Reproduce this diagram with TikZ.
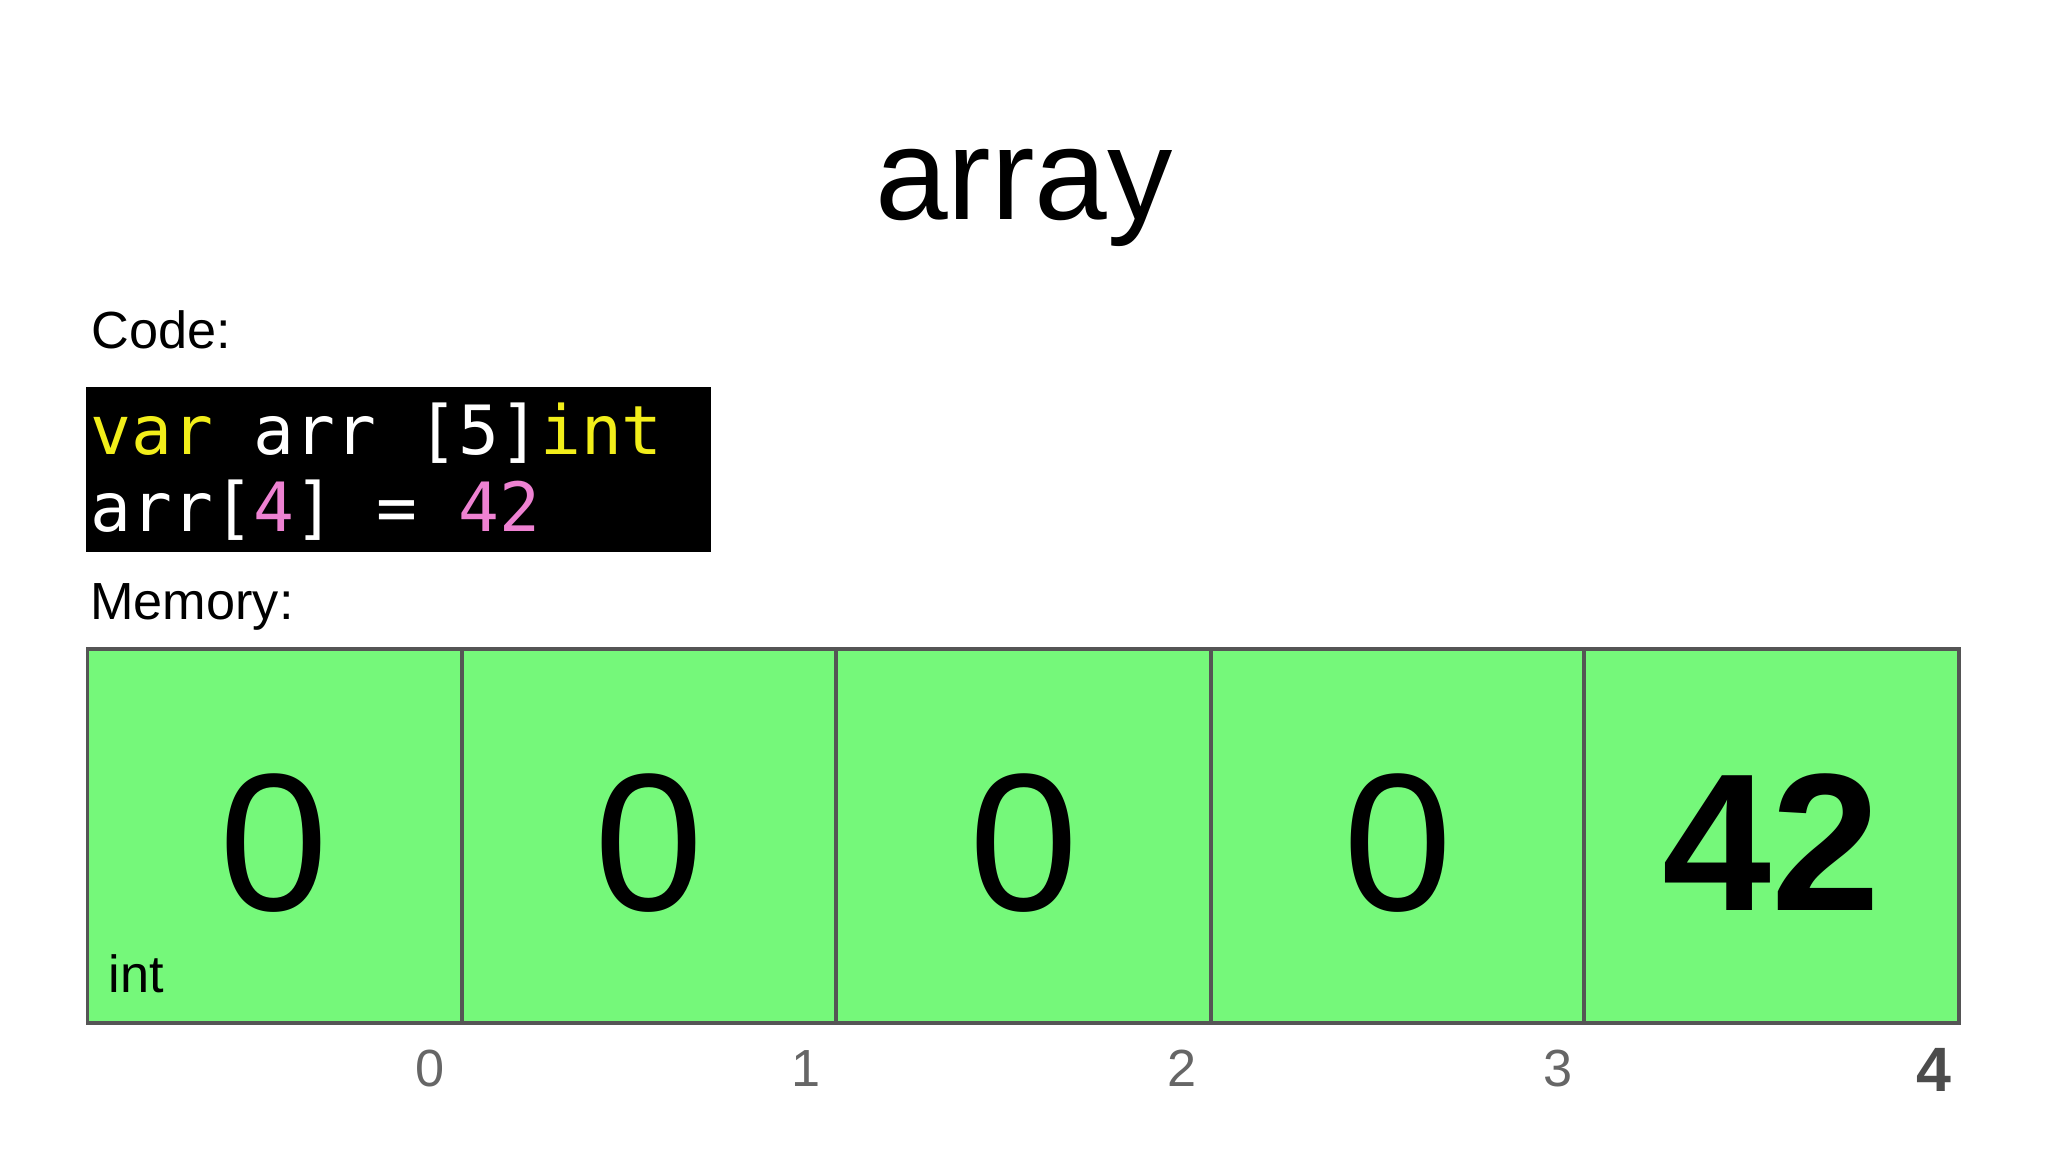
\documentclass[tikz,border=0pt]{standalone}
\usepackage{fontspec}
\setmainfont{Liberation Sans}
\newfontfamily\codefont{DejaVu Sans Mono}
\definecolor{cellgreen}{HTML}{75F87A}
\definecolor{cellborder}{HTML}{555555}
\definecolor{codeyellow}{HTML}{F2EE1A}
\definecolor{codepink}{HTML}{EE82D2}
\definecolor{idxgrey}{HTML}{666666}
\begin{document}
\begin{tikzpicture}[x=1pt,y=-1pt,
  cell/.style={draw=cellborder,line width=3pt,fill=cellgreen},
  lbl/.style={anchor=base west,inner sep=0pt,font=\fontsize{40}{48}\selectfont},
  val/.style={inner sep=0pt,font=\fontsize{150}{160}\selectfont},
  idx/.style={inner sep=0pt,anchor=base,text=idxgrey,font=\fontsize{40}{48}\selectfont}]
\useasboundingbox (0,0) rectangle (1568,882);
\node[inner sep=0pt,anchor=base,font=\fontsize{100}{110}\selectfont] (title) at (784,168) {array};
\node[lbl] (code) at (70,267) {Code:};
\fill (66,296) rectangle (544,423);
\node[inner sep=0pt,anchor=base west,text=white,font=\codefont\fontsize{52}{60}\selectfont] (l1) at (69,348) {\textcolor{codeyellow}{var} arr [5]\textcolor{codeyellow}{int}};
\node[inner sep=0pt,anchor=base west,text=white,font=\codefont\fontsize{52}{60}\selectfont] (l2) at (69,407) {arr[\textcolor{codepink}{4}] = \textcolor{codepink}{42}};
\node[lbl] (mem) at (69,474) {Memory:};
\foreach \a/\b/\n in {67/354/c0,354/640/c1,640/927/c2,927/1213/c3,1213/1500/c4}{
  \draw[cell] (\a,497) rectangle (\b,783);
}
\foreach \x/\n in {210/v0,497/v1,784/v2,1070/v3}{
  \node[val,anchor=base] (\n) at (\x,697) {0};
}
\node[val,anchor=base,font=\fontsize{150}{160}\selectfont\bfseries] (v4) at (1356,697) {42};
\node[lbl] (int) at (83,760) {int};
\foreach \x/\t in {329/0,617/1,905/2,1193/3}{
  \node[idx] (i\t) at (\x,832) {\t};
}
\node[idx,text=black!70,font=\fontsize{48}{56}\selectfont\bfseries] (i4) at (1481,836) {4};
\end{tikzpicture}
\end{document}
